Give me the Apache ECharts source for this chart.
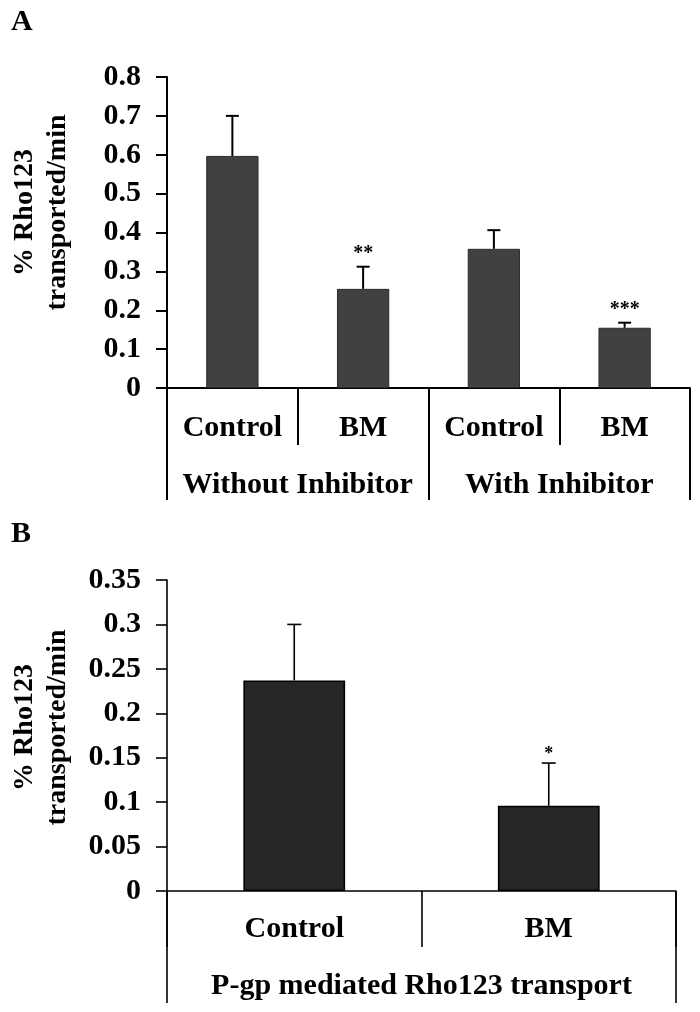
<!DOCTYPE html>
<html>
<head>
<meta charset="utf-8">
<script src="https://cdn.jsdelivr.net/npm/echarts@6/dist/echarts.min.js"></script>
<style>
html,body{margin:0;padding:0;background:#fff;}
#chart{width:700px;height:1012px;}
</style>
</head>
<body>
<div id="chart"></div>
<script>
// ---- Data ----
const categoriesA = ['Control', 'BM', 'Control', 'BM'];
const groupsA = ['Without Inhibitor', 'With Inhibitor'];
const valuesA = [0.597, 0.255, 0.358, 0.155];
const errorsA = [0.103, 0.057, 0.048, 0.013];
const starsA = ['', '**', '', '***'];
const yMaxA = 0.8, yStepA = 0.1;

const categoriesB = ['Control', 'BM'];
const groupsB = ['P-gp mediated Rho123 transport'];
const valuesB = [0.237, 0.096];
const errorsB = [0.063, 0.048];
const starsB = ['', '*'];
const yMaxB = 0.35, yStepB = 0.05;

const yTitle = '% Rho123\ntransported/min';

// ---- Styles ----
const FONT = "'Liberation Serif','Times New Roman',serif";

function errData(vals, errs, stars) {
  return vals.map((v, i) => [i, v, errs[i], stars[i]]);
}

function errSeries(xi, yi, vals, errs, stars, lw, halfCap, starSize, starGap) {
  return {
    type: 'custom',
    xAxisIndex: xi, yAxisIndex: yi,
    z: 5,
    data: errData(vals, errs, stars),
    renderItem: function (params, api) {
      const idx = api.value(0);
      const v = api.value(1);
      const e = api.value(2);
      const star = stars[params.dataIndex];
      const base = api.coord([idx, v]);
      const top = api.coord([idx, v + e]);
      const children = [
        { type: 'line', shape: { x1: base[0], y1: base[1], x2: top[0], y2: top[1] },
          style: { stroke: '#000', lineWidth: lw } },
        { type: 'line', shape: { x1: top[0] - halfCap, y1: top[1], x2: top[0] + halfCap, y2: top[1] },
          style: { stroke: '#000', lineWidth: lw } }
      ];
      if (star) {
        children.push({
          type: 'text',
          style: {
            text: star, x: top[0], y: top[1] - starGap,
            align: 'center', verticalAlign: 'bottom',
            textAlign: 'center', textVerticalAlign: 'bottom',
            fill: '#000', font: 'bold ' + starSize + 'px ' + FONT
          }
        });
      }
      return { type: 'group', children: children };
    }
  };
}

function yAxisCfg(gi, max, step, lw, shift) {
  return {
    type: 'value', gridIndex: gi, min: 0, max: max, interval: step,
    name: yTitle, nameLocation: 'middle', nameRotate: 90, nameGap: 93,
    nameTextStyle: { fontFamily: FONT, fontWeight: 'bold', fontSize: 28, color: '#000', lineHeight: 33,
      padding: [0, 0, 0, shift] },
    axisLine: { show: true, lineStyle: { color: '#000', width: lw } },
    axisTick: { show: true, length: 11, lineStyle: { color: '#000', width: lw } },
    axisLabel: { margin: 26, fontFamily: FONT, fontWeight: 'bold', fontSize: 30, color: '#000' },
    splitLine: { show: false }
  };
}

const option = {
  animation: false,
  backgroundColor: '#fff',
  title: [
    { text: 'A', left: 6, top: 2, textStyle: { fontFamily: FONT, fontWeight: 'bold', fontSize: 30, color: '#000' } },
    { text: 'B', left: 6, top: 514, textStyle: { fontFamily: FONT, fontWeight: 'bold', fontSize: 30, color: '#000' } }
  ],
  grid: [
    { left: 163, top: 77, width: 527, height: 311, containLabel: false },
    { left: 164, top: 580, width: 512, height: 311, containLabel: false }
  ],
  xAxis: [
    { type: 'category', gridIndex: 0, data: categoriesA, position: 'bottom',
      axisLine: { show: true, lineStyle: { color: '#000', width: 2 } },
      axisTick: { show: true, interval: 0, alignWithLabel: false, length: 57, lineStyle: { color: '#000', width: 2 } },
      axisLabel: { interval: 0, margin: 25, fontFamily: FONT, fontWeight: 'bold', fontSize: 30, color: '#000', lineHeight: 30 } },
    { type: 'category', gridIndex: 0, data: groupsA, position: 'bottom',
      axisLine: { show: false },
      axisTick: { show: true, interval: 0, alignWithLabel: false, length: 112, lineStyle: { color: '#000', width: 2 } },
      axisLabel: { interval: 0, margin: 82, fontFamily: FONT, fontWeight: 'bold', fontSize: 30, color: '#000', lineHeight: 30 } },
    { type: 'category', gridIndex: 1, data: categoriesB, position: 'bottom',
      axisLine: { show: true, lineStyle: { color: '#000', width: 1.6 } },
      axisTick: { show: true, interval: 0, alignWithLabel: false, length: 56, lineStyle: { color: '#000', width: 1.6 } },
      axisLabel: { interval: 0, margin: 23, fontFamily: FONT, fontWeight: 'bold', fontSize: 30, color: '#000', lineHeight: 30 } },
    { type: 'category', gridIndex: 1, data: groupsB, position: 'bottom',
      axisLine: { show: false },
      axisTick: { show: true, interval: 0, alignWithLabel: false, length: 112, lineStyle: { color: '#000', width: 1.6 } },
      axisLabel: { interval: 0, margin: 80, fontFamily: FONT, fontWeight: 'bold', fontSize: 30, color: '#000', lineHeight: 30 } }
  ],
  yAxis: [
    yAxisCfg(0, yMaxA, yStepA, 2, 40),
    yAxisCfg(1, yMaxB, yStepB, 1.6, 16)
  ],
  series: [
    { type: 'bar', xAxisIndex: 0, yAxisIndex: 0, data: valuesA, barWidth: '40%',
      itemStyle: { color: '#414141', borderColor: '#2b2b2b', borderWidth: 1 } },
    errSeries(0, 0, valuesA, errorsA, starsA, 2, 6.5, 20, 3),
    { type: 'bar', xAxisIndex: 2, yAxisIndex: 1, data: valuesB, barWidth: '40%',
      itemStyle: { color: '#262626', borderColor: '#000', borderWidth: 1.6 } },
    errSeries(2, 1, valuesB, errorsB, starsB, 1.6, 7, 18, 0)
  ]
};

const chart = echarts.init(document.getElementById('chart'), null, { renderer: 'canvas' });
chart.setOption(option);
</script>
</body>
</html>
